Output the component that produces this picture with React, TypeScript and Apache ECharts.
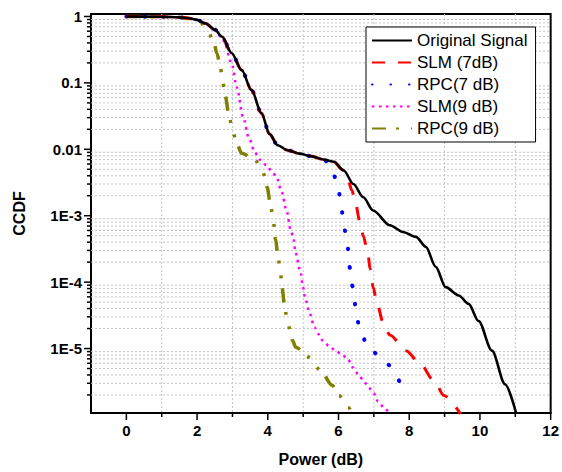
import React, { useEffect, useRef } from "react";
import * as echarts from "echarts";

// ---------- data ----------
const seriesNames = ["Original Signal", "SLM (7dB)", "RPC(7 dB)", "SLM(9 dB)", "RPC(9 dB)"];

const originalSignal: [number, number][] = [
  [0, 1], [0.5, 0.995], [1, 0.99], [1.5, 0.97], [1.77, 0.94], [2.0, 0.89], [2.23, 0.79],
  [2.51, 0.63], [2.7, 0.5], [2.98, 0.28], [3.26, 0.156], [3.54, 0.078], [3.82, 0.035],
  [4.05, 0.017], [4.28, 0.0115], [4.56, 0.0097], [4.9, 0.0086], [5.21, 0.0079],
  [5.59, 0.007], [5.87, 0.0065], [6.15, 0.0048], [6.42, 0.003], [6.7, 0.0019],
  [6.98, 0.0012], [7.45, 7.2e-4], [7.82, 5.7e-4], [8.19, 4.8e-4], [8.47, 3.4e-4],
  [8.75, 1.7e-4], [9.03, 8.4e-5], [9.4, 6.3e-5], [9.68, 4.7e-5], [9.96, 2.6e-5],
  [10.34, 9.3e-6], [10.71, 2.9e-6], [11.03, 1.03e-6],
];

const slm7: [number, number][] = [
  [0, 1], [0.5, 0.995], [1, 0.99], [1.5, 0.97], [1.77, 0.94], [2.0, 0.89], [2.23, 0.79],
  [2.51, 0.63], [2.7, 0.5], [2.98, 0.28], [3.26, 0.156], [3.54, 0.078], [3.82, 0.035],
  [4.05, 0.017], [4.28, 0.0115], [4.56, 0.0097], [4.9, 0.0086], [5.21, 0.0079],
  [5.59, 0.007], [5.87, 0.0065], [6.1, 0.005], [6.25, 0.0038], [6.38, 0.0024],
  [6.47, 0.0016], [6.61, 8.0e-4], [6.7, 5.0e-4], [6.84, 2.5e-4], [6.89, 1.6e-4],
  [6.98, 8.4e-5], [7.08, 5.0e-5], [7.26, 2.5e-5], [7.45, 1.6e-5], [7.91, 9.3e-6],
  [8.28, 6.2e-6], [8.7, 3.3e-6], [8.98, 1.96e-6], [9.45, 1.03e-6],
];

const rpc7: [number, number][] = [
  [0, 1], [0.5, 0.995], [1, 0.99], [1.5, 0.97], [1.77, 0.94], [2.0, 0.89], [2.23, 0.79],
  [2.51, 0.63], [2.7, 0.5], [2.98, 0.28], [3.26, 0.156], [3.54, 0.078], [3.82, 0.035],
  [4.05, 0.017], [4.28, 0.0115], [4.56, 0.0097], [4.9, 0.0086], [5.21, 0.0079],
  [5.59, 0.007], [5.8, 0.0054], [5.99, 0.0027], [6.08, 0.00135], [6.15, 6.9e-4],
  [6.26, 3.4e-4], [6.31, 1.7e-4], [6.4, 8.6e-5], [6.48, 4.4e-5], [6.58, 2.2e-5],
  [6.82, 1.07e-5], [7.33, 6.1e-6], [7.75, 3.0e-6],
];

const slm9: [number, number][] = [
  [0, 1], [0.5, 0.995], [1, 0.99], [1.5, 0.97], [1.77, 0.94], [2.0, 0.89], [2.23, 0.79],
  [2.51, 0.63], [2.75, 0.43], [2.98, 0.197], [3.12, 0.087], [3.3, 0.031], [3.47, 0.0146],
  [3.63, 0.0091], [3.77, 0.007], [3.96, 0.0058], [4.11, 0.0047], [4.25, 0.0038],
  [4.39, 0.0023], [4.53, 0.0012], [4.65, 6.0e-4], [4.73, 4.5e-4], [4.78, 2.8e-4],
  [4.92, 1.5e-4], [4.99, 8.6e-5], [5.07, 5.4e-5], [5.18, 3.4e-5], [5.32, 2.1e-5],
  [5.43, 1.66e-5], [5.55, 1.32e-5], [5.73, 1.1e-5], [5.91, 9.3e-6], [6.1, 8.1e-6],
  [6.27, 6.8e-6], [6.41, 5.2e-6], [6.56, 4.1e-6], [6.72, 3.2e-6], [6.85, 2.6e-6],
  [7.0, 2.1e-6], [7.12, 1.6e-6], [7.28, 1.3e-6], [7.45, 1.03e-6],
];

const rpc9: [number, number][] = [
  [0, 1], [0.5, 0.995], [1, 0.99], [1.5, 0.97], [1.8, 0.93], [2.05, 0.86], [2.28, 0.66],
  [2.47, 0.42], [2.56, 0.28], [2.65, 0.186], [2.72, 0.11], [2.79, 0.066], [2.91, 0.031],
  [3.0, 0.0195], [3.12, 0.0123], [3.26, 0.0087], [3.63, 0.007], [3.86, 0.0046],
  [3.98, 0.0027], [4.09, 0.0013], [4.16, 8.0e-4], [4.22, 4.3e-4], [4.3, 2.2e-4],
  [4.36, 1.4e-4], [4.4, 8.4e-5], [4.49, 3.8e-5], [4.56, 2.4e-5], [4.7, 1.32e-5],
  [4.79, 1.05e-5], [5.17, 7.4e-6], [5.49, 4.7e-6], [5.82, 2.8e-6], [6.01, 1.96e-6],
  [6.28, 1.3e-6], [6.38, 1.08e-6],
];

// axis ranges / ticks
const X_MIN = -1;
const X_MAX = 12;
const Y_MIN = 1.07e-6;
const Y_MAX = 1.09;
const xTickValues = [0, 1, 2, 3, 4, 5, 6, 7, 8, 9, 10, 11, 12];
const yDecades = [1e-5, 1e-4, 1e-3, 1e-2, 1e-1, 1];
const yMinorMultipliers = [2, 3, 4, 5, 6, 7, 8, 9];

const FONT = "'Liberation Sans', Arial, Helvetica, sans-serif";

export default function App() {
  const ref = useRef<HTMLDivElement>(null);

  useEffect(() => {
    document.body.style.margin = "0";
    if (!ref.current) return;
    const chart = echarts.init(ref.current, undefined, { renderer: "svg" });

    // tick/grid helper items: [x, y, kind]
    const guideData: number[][] = [];
    yDecades.forEach((d) => guideData.push([X_MIN, d, 1]));
    [1e-6, 1e-5, 1e-4, 1e-3, 1e-2, 1e-1].forEach((d) =>
      yMinorMultipliers.forEach((m) => {
        const v = d * m;
        if (v > Y_MIN && v < Y_MAX) guideData.push([X_MIN, v, 0]);
      })
    );
    xTickValues.forEach((x) => guideData.push([x, Y_MIN, x % 2 === 0 ? 2 : 3]));

    const lineDefs = [
      { data: originalSignal, color: "#000000", width: 2.6, dash: "solid" as any, cap: "butt" },
      { data: slm7, color: "#ff0000", width: 3, dash: [13, 13], cap: "butt" },
      { data: rpc7, color: "#0000ff", width: 4, dash: [0.5, 18], cap: "round" },
      { data: slm9, color: "#ff00ff", width: 2.5, dash: [2.5, 4.5], cap: "butt" },
      { data: rpc9, color: "#808000", width: 3.5, dash: [14, 10, 3, 12, 3, 10], cap: "butt" },
    ];

    chart.setOption({
      animation: false,
      backgroundColor: "#ffffff",
      grid: {
        left: 91,
        right: 5,
        top: 14,
        bottom: 59,
        show: true,
        borderColor: "#000",
        borderWidth: 2,
        backgroundColor: "transparent",
      },
      legend: {
        orient: "vertical",
        left: 366,
        top: 27,
        data: seriesNames,
        itemWidth: 40,
        itemHeight: 14,
        itemGap: 5,
        padding: [5, 8, 5, 5],
        borderColor: "#000",
        borderWidth: 1,
        backgroundColor: "#fff",
        itemStyle: { color: "rgba(0,0,0,0)", borderWidth: 0, opacity: 0 },
        textStyle: { fontFamily: FONT, fontSize: 17, color: "#000" },
      },
      xAxis: {
        type: "value",
        min: X_MIN,
        max: X_MAX,
        interval: 1,
        name: "Power (dB)",
        nameLocation: "middle",
        nameGap: 38,
        nameTextStyle: { fontFamily: FONT, fontSize: 16, fontWeight: "bold", color: "#000" },
        axisLine: { show: true, onZero: false, lineStyle: { color: "#000", width: 2 } },
        axisTick: { show: false },
        splitLine: { show: false },
        axisLabel: {
          margin: 10,
          fontFamily: FONT,
          fontSize: 15,
          fontWeight: "bold",
          color: "#000",
          formatter: (v: number) => (v >= 0 && Math.round(v) % 2 === 0 ? String(Math.round(v)) : ""),
        },
      },
      yAxis: {
        type: "log",
        logBase: 10,
        min: Y_MIN,
        max: Y_MAX,
        splitNumber: 6,
        name: "CCDF",
        nameLocation: "middle",
        nameRotate: 90,
        nameGap: 64,
        nameTextStyle: { fontFamily: FONT, fontSize: 16, fontWeight: "bold", color: "#000" },
        axisLine: { show: true, onZero: false, lineStyle: { color: "#000", width: 2 } },
        axisTick: { show: false },
        splitLine: { show: false },
        minorTick: { show: false },
        axisLabel: {
          margin: 9,
          showMinLabel: false,
          showMaxLabel: false,
          fontFamily: FONT,
          fontSize: 15,
          fontWeight: "bold",
          color: "#000",
          formatter: (v: number) => {
            const l = Math.log10(v);
            const e = Math.round(l);
            if (Math.abs(l - e) > 0.01) return "";
            if (e === 0) return "1";
            if (e === -1) return "0.1";
            if (e === -2) return "0.01";
            return "1E" + e;
          },
        },
      },
      series: [
        {
          type: "custom",
          name: "guides",
          silent: true,
          clip: false,
          z: 1,
          encode: { x: 0, y: 1 },
          data: guideData,
          renderItem: (params: any, api: any) => {
            const kind = api.value(2);
            const cs = params.coordSys;
            const p = api.coord([api.value(0), api.value(1)]);
            const grid = { stroke: "#c4c4c4", lineWidth: 1, lineDash: [2, 2] };
            const tick = { stroke: "#000", lineWidth: 1.5 };
            if (kind === 0) {
              return {
                type: "group",
                children: [
                  { type: "line", shape: { x1: cs.x, y1: p[1], x2: cs.x + cs.width, y2: p[1] }, style: grid },
                  { type: "line", shape: { x1: cs.x - 4, y1: p[1], x2: cs.x, y2: p[1] }, style: tick },
                ],
              };
            }
            if (kind === 1) {
              return { type: "line", shape: { x1: cs.x - 7, y1: p[1], x2: cs.x, y2: p[1] }, style: tick };
            }
            const yb = cs.y + cs.height;
            if (kind === 2) {
              return { type: "line", shape: { x1: p[0], y1: yb, x2: p[0], y2: yb + 7 }, style: tick };
            }
            return {
              type: "group",
              children: [
                { type: "line", shape: { x1: p[0], y1: cs.y, x2: p[0], y2: yb }, style: grid },
                { type: "line", shape: { x1: p[0], y1: yb, x2: p[0], y2: yb + 4 }, style: tick },
              ],
            };
          },
        },
        ...lineDefs.map((d, i) => ({
          type: "line",
          name: seriesNames[i],
          data: d.data,
          showSymbol: false,
          symbol: "none",
          smooth: 0.3,
          smoothMonotone: "x",
          z: 3 + (4 - i),
          lineStyle: { color: d.color, width: d.width, type: d.dash, cap: d.cap },
          itemStyle: { color: d.color },
        })),
      ],
    });

    return () => chart.dispose();
  }, []);

  return <div ref={ref} style={{ width: 562, height: 472 }} />;
}
